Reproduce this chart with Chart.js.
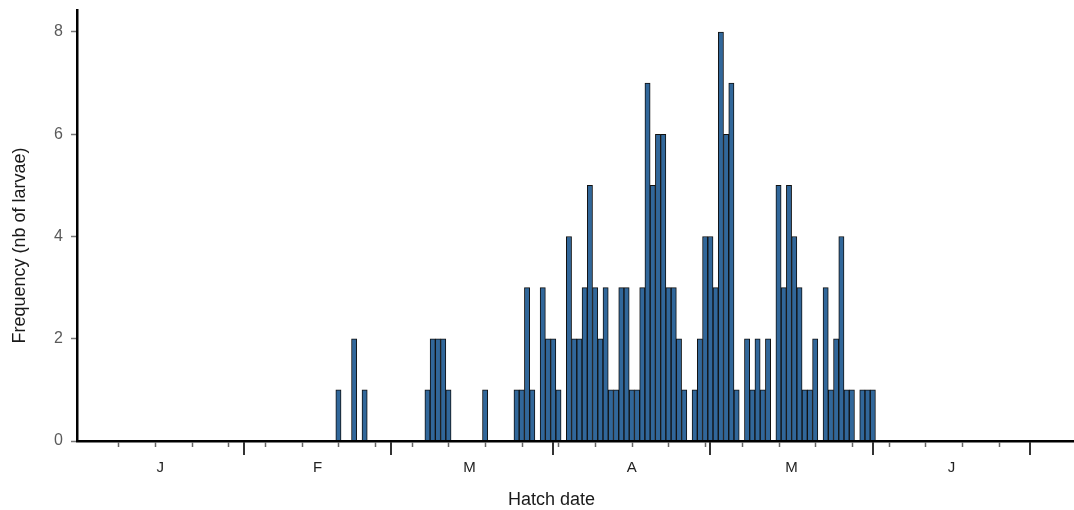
<!DOCTYPE html>
<html lang="en">
<head>
<meta charset="UTF-8">
<title>Hatch date frequency</title>
<style>
  html, body { margin: 0; padding: 0; background: #fff; }
  #wrap { width: 1074px; height: 510px; }
</style>
</head>
<body>
<div id="wrap"><canvas id="hatchChart" width="1074" height="510"></canvas></div>
<script src="https://cdn.jsdelivr.net/npm/chart.js"></script>
<script>
// day of year (0 = 1 Jan) and number of larvae hatched that day
const days = [49, 52, 54, 66, 67, 68, 69, 70, 77, 83, 84, 85, 86, 88, 89, 90, 91,
  93, 94, 95, 96, 97, 98, 99, 100, 101, 102, 103, 104, 105, 106, 107, 108, 109, 110, 111, 112, 113, 114, 115,
  117, 118, 119, 120, 121, 122, 123, 124, 125, 127, 128, 129, 130, 131,
  133, 134, 135, 136, 137, 138, 139, 140, 142, 143, 144, 145, 146, 147, 149, 150, 151];
const counts = [1, 2, 1, 1, 2, 2, 2, 1, 1, 1, 1, 3, 1, 3, 2, 2, 1,
  4, 2, 2, 3, 5, 3, 2, 3, 1, 1, 3, 3, 1, 1, 3, 7, 5, 6, 6, 3, 3, 2, 1,
  1, 2, 4, 4, 3, 8, 6, 7, 1, 2, 1, 2, 1, 2,
  5, 3, 5, 4, 3, 1, 1, 2, 3, 1, 2, 4, 1, 1, 1, 1, 1];

const monthLetters = ['J', 'F', 'M', 'A', 'M', 'J'];
const monthMids = [15, 45, 74, 105, 135.5, 166];
const monthStarts = [31, 59, 90, 120, 151, 181];
const weekDays = [7, 14, 21, 28, 35, 42, 49, 56, 63, 70, 77, 84, 91, 98, 105,
  112, 119, 126, 133, 140, 147, 154, 161, 168, 175];

const FONT = 'Liberation Sans, Arial, Helvetica, sans-serif';

// weekly / monthly tick marks under the x axis, plus both axis titles
const axisMarks = {
  id: 'axisMarks',
  afterDraw(chart) {
    const { ctx, chartArea, scales: { x } } = chart;
    const y0 = chartArea.bottom;
    ctx.save();
    ctx.strokeStyle = '#666';
    ctx.lineWidth = 1.5;
    weekDays.forEach(d => {
      const px = Math.round(x.getPixelForValue(d)) + 0.5;
      ctx.beginPath(); ctx.moveTo(px, y0 + 1); ctx.lineTo(px, y0 + 6); ctx.stroke();
    });
    ctx.strokeStyle = '#333';
    ctx.lineWidth = 2;
    monthStarts.forEach(d => {
      const px = Math.round(x.getPixelForValue(d));
      ctx.beginPath(); ctx.moveTo(px, y0 + 1); ctx.lineTo(px, y0 + 14); ctx.stroke();
    });

    ctx.fillStyle = '#1a1a1a';
    ctx.font = '18px ' + FONT;
    ctx.textAlign = 'center';
    ctx.textBaseline = 'middle';
    ctx.fillText('Hatch date', (chartArea.left + chartArea.right) / 2 - 24, 500);
    ctx.translate(20, (chartArea.top + chartArea.bottom) / 2 + 20);
    ctx.rotate(-Math.PI / 2);
    ctx.fillText('Frequency (nb of larvae)', 0, 0);
    ctx.restore();
  }
};

new Chart(document.getElementById('hatchChart'), {
  type: 'bar',
  data: {
    datasets: [{
      data: days.map((d, i) => ({ x: d, y: counts[i] })),
      backgroundColor: '#31679a',
      borderColor: '#111',
      borderWidth: 1,
      categoryPercentage: 1,
      barPercentage: 1
    }]
  },
  options: {
    responsive: false,
    animation: false,
    layout: { padding: { top: 10, right: 0, bottom: 0, left: 0 } },
    plugins: { legend: { display: false }, tooltip: { enabled: false } },
    scales: {
      x: {
        type: 'linear',
        min: -0.9,
        max: 189.4,
        offset: false,
        grid: { display: false, drawTicks: false },
        border: { display: true, color: '#000', width: 2.5, z: 1 },
        afterBuildTicks: s => { s.ticks = monthMids.map(v => ({ value: v })); },
        afterFit: s => { s.height = 69; s.paddingLeft = 0; s.paddingRight = 0; },
        ticks: {
          autoSkip: false,
          maxRotation: 0,
          padding: 18,
          color: '#222',
          font: { family: FONT, size: 15 },
          callback: (v, i) => monthLetters[i]
        }
      },
      y: {
        min: 0,
        max: 8.43,
        grid: { drawOnChartArea: false, drawTicks: true, tickLength: 6, tickColor: '#777', tickWidth: 1.5 },
        border: { display: true, color: '#000', width: 2.5, z: 1 },
        afterFit: s => { s.width = 77; s.paddingTop = 0; s.paddingBottom = 0; },
        ticks: {
          stepSize: 2,
          includeBounds: false,
          padding: 8,
          color: '#5a5a5a',
          font: { family: FONT, size: 16 }
        }
      }
    }
  },
  plugins: [axisMarks]
});
</script>
</body>
</html>
